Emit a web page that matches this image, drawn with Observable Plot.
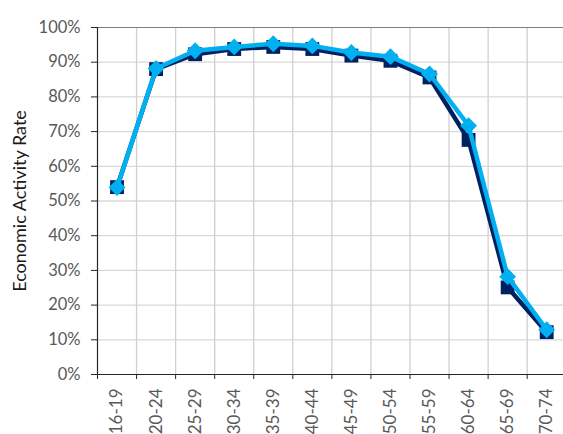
<!DOCTYPE html>
<html><head><meta charset="utf-8">
<script src="https://cdn.jsdelivr.net/npm/d3@7"></script>
<script src="https://cdn.jsdelivr.net/npm/@observablehq/plot@0.6"></script>
<style>body{margin:0;background:#fff;} svg{display:block;}</style>
</head><body><div id="chart"></div>
<script>
const ageGroups = ["16-19","20-24","25-29","30-34","35-39","40-44","45-49","50-54","55-59","60-64","65-69","70-74"];
const seriesDark = [54.0, 88.0, 92.3, 93.8, 94.4, 93.8, 91.9, 90.4, 85.6, 67.6, 25.1, 12.2];
const seriesLight = [53.9, 88.2, 93.3, 94.4, 95.3, 94.7, 92.8, 91.6, 86.6, 71.7, 28.2, 12.9];
const yTicks = [0, 10, 20, 30, 40, 50, 60, 70, 80, 90, 100];
const yTitle = "Economic Activity Rate";

const rows = ageGroups.map((g, i) => ({i, group: g, dark: seriesDark[i], light: seriesLight[i]}));
const idx = ageGroups.map((_, i) => i);
const bounds = d3.range(ageGroups.length + 1).map(i => i - 0.5);

const chart = Plot.plot({
  width: 563, height: 434,
  marginLeft: 97, marginRight: 0, marginTop: 27, marginBottom: 60,
  style: {fontFamily: "Lato, 'Open Sans', sans-serif", fontSize: "16px", color: "#595959", background: "#fff", overflow: "visible"},
  x: {type: "linear", domain: [-0.5, ageGroups.length - 0.57]},
  y: {domain: [0, 100]},
  marks: [
    Plot.ruleY(yTicks.filter(d => d > 0 && d < 100), {stroke: "#d9d9d9", strokeWidth: 1.3}),
    Plot.ruleX(bounds.slice(1), {stroke: "#d0d0d0", strokeWidth: 1.3}),
    Plot.ruleY([100], {stroke: "#7f7f7f", strokeWidth: 1.2}),
    Plot.axisY({ticks: yTicks, tickSize: 6, tickPadding: 11, tickFormat: d => d + "%", stroke: "#262626",
      label: null, fill: "#595959", fontSize: 16.5}),
    Plot.text([yTitle], {frameAnchor: "left", dx: -77, rotate: -90, textAnchor: "middle", lineAnchor: "middle",
      fontSize: 18, fill: "#1a1a1a"}),
    Plot.axisX({ticks: idx, tickSize: 0, tickPadding: 14, tickRotate: -90, tickFormat: i => ageGroups[i], label: null, fill: "#595959", fontSize: 17}),
    Plot.axisX({ticks: bounds, tickSize: 5, tickFormat: () => "", label: null, stroke: "#262626"}),
    Plot.ruleX([-0.5], {stroke: "#262626", strokeWidth: 1.2}),
    Plot.ruleY([0], {stroke: "#262626", strokeWidth: 1.2}),
    Plot.line(rows, {x: "i", y: "dark", stroke: "#002060", strokeWidth: 4.5, strokeLinejoin: "round"}),
    Plot.dot(rows, {x: "i", y: "dark", symbol: "square", r: 7.8, fill: "#002060", stroke: null}),
    Plot.line(rows, {x: "i", y: "light", stroke: "#00b0f0", strokeWidth: 4.5, strokeLinejoin: "round"}),
    Plot.dot(rows, {x: "i", y: "light", symbol: "diamond2", r: 7.6, fill: "#00b0f0", stroke: null})
  ]
});
document.getElementById("chart").appendChild(chart);
</script>
</body></html>
